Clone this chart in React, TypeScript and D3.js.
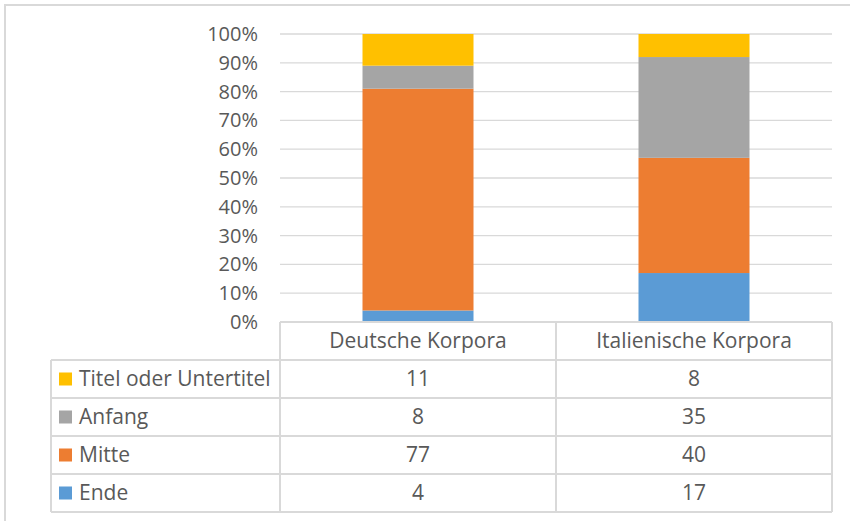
import { useEffect, useRef } from "react";
import * as d3 from "d3";

// chart values
const categories = ["Deutsche Korpora", "Italienische Korpora"];
const seriesNames = ["Ende", "Mitte", "Anfang", "Titel oder Untertitel"]; // bottom -> top
const ende = [4, 17];
const mitte = [77, 40];
const anfang = [8, 35];
const titel = [11, 8];
const seriesColors = ["#5B9BD5", "#ED7D31", "#A5A5A5", "#FFC000"];
const yTicks = [0, 0.1, 0.2, 0.3, 0.4, 0.5, 0.6, 0.7, 0.8, 0.9, 1];

const W = 850;
const H = 521;
const FONT = "'Open Sans', 'Noto Sans', sans-serif";
const FS = 21;
const TXT = "#595959";
const GRID = "#D9D9D9";

export default function App() {
  const ref = useRef<SVGSVGElement>(null);

  useEffect(() => {
    document.body.style.margin = "0";
    const svg = d3.select(ref.current);
    svg.selectAll("*").remove();

    const plot = { left: 280, right: 832, top: 34, bottom: 322 };
    const rowsY = [322, 360, 398, 436, 474, 512];
    const tableLeft = 51;

    // frame
    svg.append("rect")
      .attr("x", 5).attr("y", 5).attr("width", W + 10).attr("height", H + 10)
      .attr("fill", "#fff").attr("stroke", GRID).attr("stroke-width", 2);

    const x = d3.scaleBand().domain(categories).range([plot.left, plot.right]).paddingInner(0).paddingOuter(0);
    const y = d3.scaleLinear().domain([0, 1]).range([plot.bottom, plot.top]);

    // grid lines
    svg.append("g").selectAll("line").data(yTicks.slice(1)).enter().append("line")
      .attr("x1", plot.left).attr("x2", plot.right)
      .attr("y1", (d) => y(d)).attr("y2", (d) => y(d))
      .attr("stroke", GRID).attr("stroke-width", 1.3);

    // y labels
    svg.append("g").selectAll("text").data(yTicks).enter().append("text")
      .attr("x", 258).attr("y", (d) => y(d))
      .attr("dy", "0.35em").attr("text-anchor", "end")
      .attr("font-family", FONT).attr("font-size", FS - 1).attr("fill", TXT)
      .text((d) => d3.format(".0%")(d));

    // stacked data
    const rows = categories.map((c, i) => ({
      cat: c,
      Ende: ende[i],
      Mitte: mitte[i],
      Anfang: anfang[i],
      "Titel oder Untertitel": titel[i],
    }));
    const stack = d3.stack<any>().keys(seriesNames).offset(d3.stackOffsetExpand);
    const layers = stack(rows);
    const barW = 111;

    layers.forEach((layer, li) => {
      svg.append("g").selectAll("rect").data(layer).enter().append("rect")
        .attr("x", (d) => x(d.data.cat)! + x.bandwidth() / 2 - barW / 2)
        .attr("width", barW)
        .attr("y", (d) => y(d[1]))
        .attr("height", (d) => y(d[0]) - y(d[1]))
        .attr("fill", seriesColors[li]);
    });

    // data table
    const t = svg.append("g");
    const line = (x1: number, y1: number, x2: number, y2: number) =>
      t.append("line").attr("x1", x1).attr("y1", y1).attr("x2", x2).attr("y2", y2)
        .attr("stroke", GRID).attr("stroke-width", 2);

    line(plot.left, rowsY[0], plot.right, rowsY[0]);
    rowsY.slice(1).forEach((ry) => line(tableLeft, ry, plot.right, ry));
    line(tableLeft, rowsY[1], tableLeft, rowsY[5]);
    line(plot.left, rowsY[0], plot.left, rowsY[5]);
    line(x(categories[1])!, rowsY[0], x(categories[1])!, rowsY[5]);
    line(plot.right, rowsY[0], plot.right, rowsY[5]);

    // header
    categories.forEach((c) => {
      t.append("text")
        .attr("x", x(c)! + x.bandwidth() / 2).attr("y", (rowsY[0] + rowsY[1]) / 2)
        .attr("dy", "0.35em").attr("text-anchor", "middle")
        .attr("font-family", FONT).attr("font-size", FS).attr("fill", TXT)
        .text(c);
    });

    // rows, top row is the top series
    const tableSeries = [3, 2, 1, 0];
    const values = [ende, mitte, anfang, titel];
    tableSeries.forEach((si, r) => {
      const cy = (rowsY[r + 1] + rowsY[r + 2]) / 2;
      t.append("rect")
        .attr("x", 59).attr("y", cy - 6.5).attr("width", 13).attr("height", 13)
        .attr("fill", seriesColors[si]);
      t.append("text")
        .attr("x", 79).attr("y", cy).attr("dy", "0.35em")
        .attr("font-family", FONT).attr("font-size", FS).attr("fill", TXT)
        .text(seriesNames[si]);
      categories.forEach((c) => {
        const ci = categories.indexOf(c);
        t.append("text")
          .attr("x", x(c)! + x.bandwidth() / 2).attr("y", cy).attr("dy", "0.35em")
          .attr("text-anchor", "middle")
          .attr("font-family", FONT).attr("font-size", FS).attr("fill", TXT)
          .text(values[si][ci]);
      });
    });
  }, []);

  return <svg ref={ref} width={W} height={H} style={{ display: "block" }} />;
}
